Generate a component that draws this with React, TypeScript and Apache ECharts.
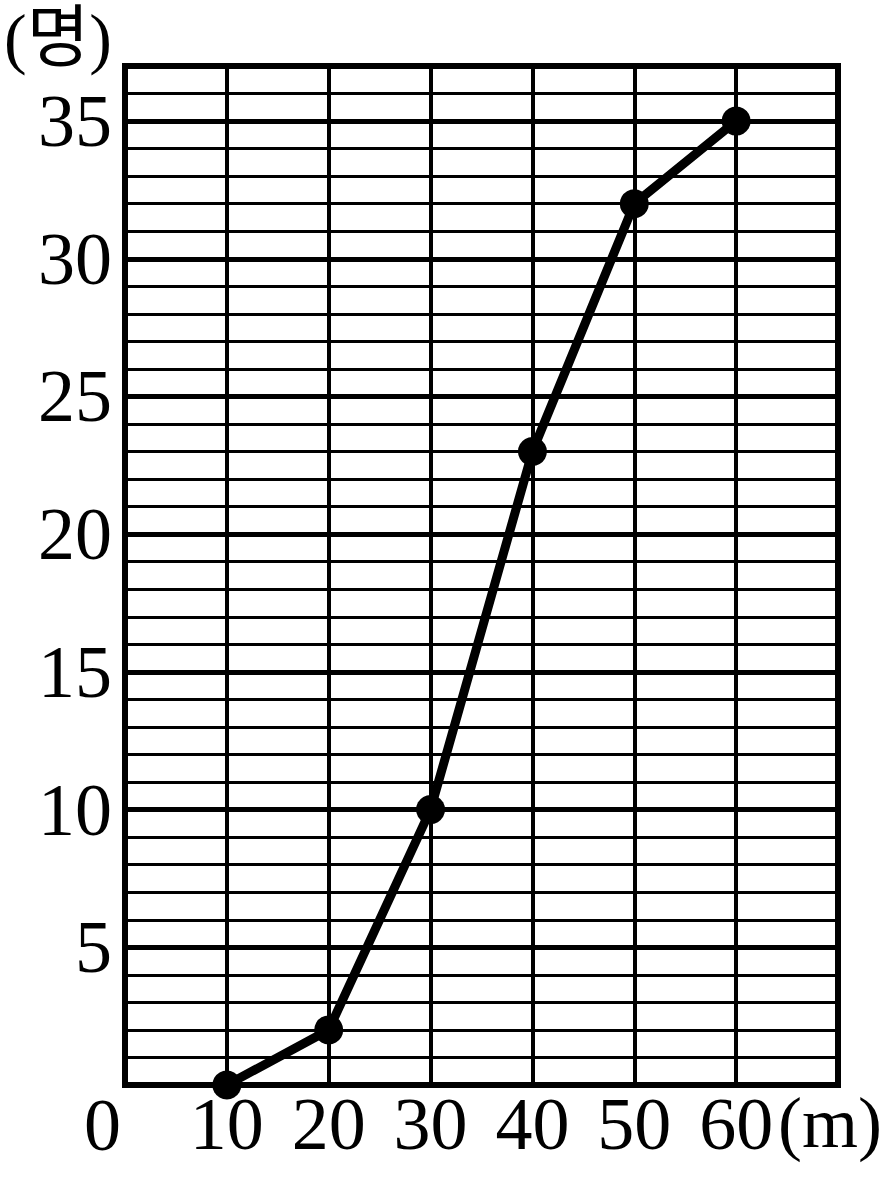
import React, { useEffect, useRef } from "react";
import * as echarts from "echarts";

const distances = [10, 20, 30, 40, 50, 60];
const people = [0, 2, 10, 23, 32, 35];
const yUnit = "(명)";
const xUnit = "(m)";
const originLabel = "0";

const FONT = "'Liberation Serif', 'Noto Sans CJK KR', serif";
const FS = 74;

export default function App() {
  const ref = useRef<HTMLDivElement>(null);
  useEffect(() => {
    if (!ref.current) return;
    const chart = echarts.init(ref.current, null, { renderer: "svg" });
    const data = distances.map((d, i) => [d, people[i]]);
    chart.setOption({
      animation: false,
      backgroundColor: "#ffffff",
      grid: {
        left: 125,
        right: 51,
        top: 66,
        bottom: 97,
        show: true,
        borderColor: "#000",
        borderWidth: 6,
        backgroundColor: "transparent",
        outerBoundsMode: "none",
        containLabel: false,
        z: 5,
      },
      xAxis: {
        type: "value",
        min: 0,
        max: 70,
        interval: 10,
        axisLine: { show: false },
        axisTick: { show: false },
        splitLine: { show: true, lineStyle: { color: "#000", width: 4 } },
        axisLabel: {
          fontFamily: FONT,
          fontSize: FS,
          color: "#000",
          margin: 2,
          formatter: (v: number) =>
            v === 0 ? "" : v === 70 ? `{u|${xUnit}}` : String(v),
          rich: {
            u: {
              fontFamily: FONT,
              fontSize: 72,
              color: "#000",
              padding: [0, 16, 0, 0],
            },
          },
        },
      },
      yAxis: [
        {
          type: "value",
          min: 0,
          max: 37,
          interval: 1,
          position: "left",
          axisLine: { show: false },
          axisTick: { show: false },
          axisLabel: { show: false },
          splitLine: { show: true, lineStyle: { color: "#000", width: 3 } },
        },
        {
          type: "value",
          min: 0,
          max: 37,
          interval: 5,
          position: "left",
          axisLine: { show: false },
          axisTick: { show: false },
          splitLine: { show: true, lineStyle: { color: "#000", width: 5 } },
          axisLabel: {
            fontFamily: FONT,
            fontSize: FS,
            color: "#000",
            margin: 13,
            formatter: (v: number) => (v === 0 || v % 5 !== 0 ? "" : String(v)),
          },
        },
      ],
      series: [
        {
          type: "line",
          data,
          yAxisIndex: 0,
          symbol: "circle",
          symbolSize: 29,
          lineStyle: { color: "#000", width: 9 },
          itemStyle: { color: "#000" },
          z: 10,
        },
      ],
      graphic: [
        {
          type: "text",
          left: 4,
          top: 4,
          style: { text: yUnit, font: `68px ${FONT}`, fill: "#000" },
        },
        {
          type: "text",
          left: 84,
          top: 1088,
          style: { text: originLabel, font: `${FS}px ${FONT}`, fill: "#000" },
        },
      ],
    });
    return () => chart.dispose();
  }, []);
  return (
    <div
      ref={ref}
      style={{ position: "absolute", left: 0, top: 0, width: 889, height: 1182 }}
    />
  );
}
